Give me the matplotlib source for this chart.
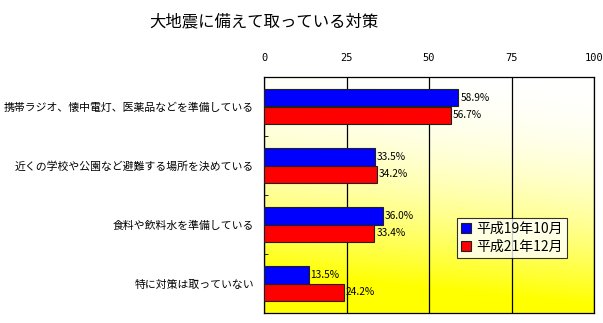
import numpy as np
import matplotlib.pyplot as plt

plt.rcParams['font.family'] = ['Noto Sans CJK JP', 'DejaVu Sans']

# Survey items and the share (%) answering in each round
categories = ['携帯ラジオ、懐中電灯、医薬品などを準備している',
              '近くの学校や公園など避難する場所を決めている',
              '食料や飲料水を準備している',
              '特に対策は取っていない']
h19_oct = [58.9, 33.5, 36.0, 13.5]
h21_dec = [56.7, 34.2, 33.4, 24.2]
series_names = ['平成19年10月', '平成21年12月']
xticks = [0, 25, 50, 75, 100]

fig = plt.figure(figsize=(6.03, 3.23), dpi=100)
ax = fig.add_axes([264/603, 1 - 313/323, 330/603, 236/323])

n = len(categories)
y = np.arange(n)
h = 0.29

# background gradient: white at the top fading to yellow at the bottom
gy, gx = np.mgrid[0:1:200j, 0:1:200j]
t = np.clip((0.88 * gy + 0.12 * (1 - gx)) / 0.85, 0, 1)
grad = np.ones((200, 200, 3))
grad[:, :, 2] = 1 - t ** 2
ax.imshow(grad, extent=[0, 100, n - 0.5, -0.5], aspect='auto', zorder=0,
          interpolation='bilinear')

b1 = ax.barh(y - h/2, h19_oct, height=h, color='#0000ff', edgecolor='#202020',
             linewidth=0.8, zorder=3, label=series_names[0])
b2 = ax.barh(y + h/2, h21_dec, height=h, color='#ff0000', edgecolor='#202020',
             linewidth=0.8, zorder=3, label=series_names[1])

for bars, vals in ((b1, h19_oct), (b2, h21_dec)):
    for bar, v in zip(bars, vals):
        ax.text(v + 0.6, bar.get_y() + bar.get_height()/2, f'{v:.1f}%',
                va='center', ha='left', fontsize=7.3, zorder=4)

ax.set_xlim(0, 100)
ax.set_ylim(n - 0.5, -0.5)
ax.xaxis.tick_top()
ax.set_xticks(xticks)
ax.set_xticklabels([str(v) for v in xticks], fontsize=7.5, family='DejaVu Sans Mono')
ax.tick_params(axis='x', length=0, pad=10)
ax.grid(axis='x', color='black', linewidth=0.9, zorder=1)

ax.set_yticks(y)
ax.set_yticklabels(categories, fontsize=7.8)
ax.tick_params(axis='y', length=0, pad=7)
ax.set_yticks(np.arange(n - 1) + 0.5, minor=True)
ax.tick_params(axis='y', which='minor', direction='in', length=3)

for s in ax.spines.values():
    s.set_linewidth(0.9)

leg = ax.legend(loc='upper left', bbox_to_anchor=(193/330, 1 - 141/236),
                fontsize=10, frameon=True, fancybox=False, edgecolor='black',
                handlelength=0.7, handleheight=0.7, handletextpad=0.4,
                borderpad=0.3, labelspacing=0.25, borderaxespad=0)
leg.get_frame().set_linewidth(0.8)

fig.text(264/603, 1 - 22/323, '大地震に備えて取っている対策', ha='center', va='center',
         fontsize=11.8)

fig.savefig('out.png', dpi=100)
